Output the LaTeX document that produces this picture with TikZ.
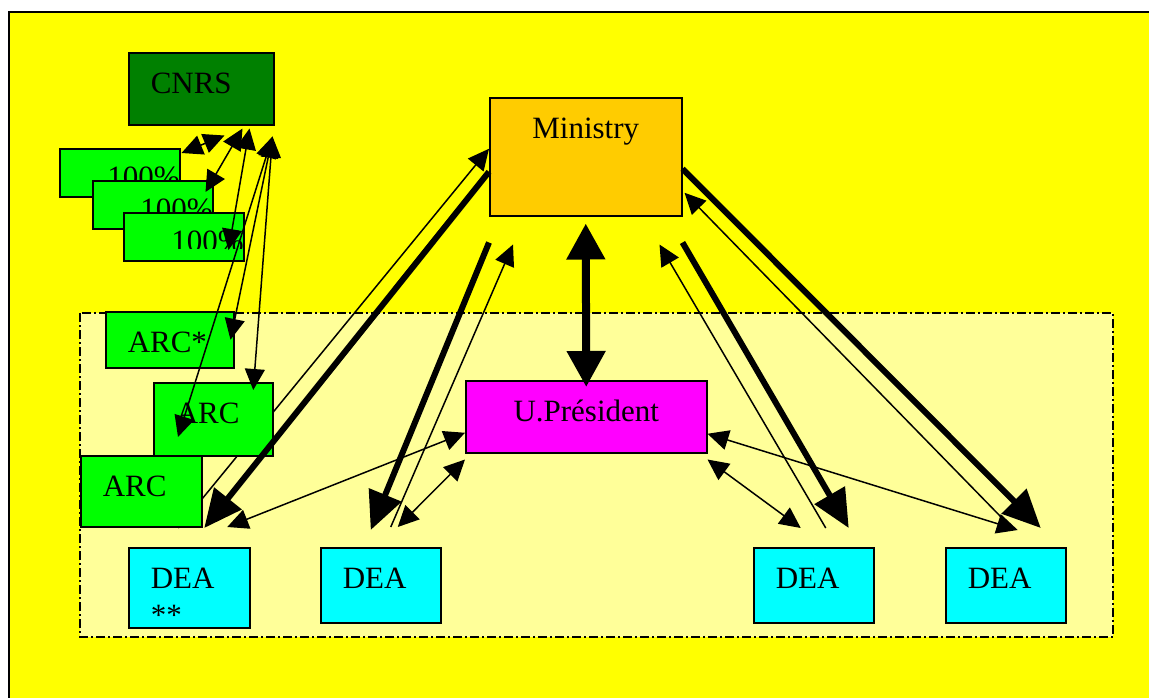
\documentclass[tikz,border=0pt]{standalone}
\usepackage{fontspec}
\setmainfont{Liberation Serif}
\usetikzlibrary{arrows.meta}

\definecolor{bgyellow}{RGB}{255,255,0}
\definecolor{zoneyellow}{RGB}{255,255,153}
\definecolor{cnrsgreen}{RGB}{0,128,0}
\definecolor{arcgreen}{RGB}{0,255,0}
\definecolor{ministry}{RGB}{255,204,0}
\definecolor{presmagenta}{RGB}{255,0,255}
\definecolor{deacyan}{RGB}{0,255,255}

\tikzset{
  unit/.style={draw=black, line width=1.5pt, anchor=north west, inner xsep=22pt, inner ysep=0pt,
    text height=41pt, align=left, font=\fontsize{31}{37}\selectfont},
  pct/.style={draw=black, line width=1.5pt, fill=arcgreen, anchor=north west, inner sep=0pt,
    minimum width=120pt, minimum height=48pt,
    path picture={\clip (path picture bounding box.north west) rectangle ([yshift=12pt]path picture bounding box.south east);
      \node[anchor=base west, inner sep=0pt, font=\fontsize{31}{37}\selectfont] (#1)
        at ([xshift=23pt,yshift=-39pt]path picture bounding box.north west) {100\%};}},
  zone/.style={line width=2pt, fill=zoneyellow, dash pattern=on 9pt off 3pt on 2pt off 3pt},
  link/.style={line width=1.5pt, -{Triangle[length=21pt,width=20pt]}},
  duplex/.style={line width=1.5pt, {Triangle[length=21pt,width=20pt]}-{Triangle[length=21pt,width=20pt]}},
  fatlink/.style={line width=6pt, -{Triangle[length=38pt,width=34pt]}},
  fatduplex/.style={line width=8pt, {Triangle[length=36pt,width=37pt]}-{Triangle[length=36pt,width=37pt]}},
}

\begin{document}
\begin{tikzpicture}[x=1pt,y=-1pt]
\useasboundingbox (0,0) rectangle (1149,697);
\draw[line width=2pt, fill=bgyellow] (9,12) rectangle (1200,760);
\draw[zone] (80,313) rectangle (1113,637);

\node[unit, fill=cnrsgreen, text width=101pt, text depth=31pt] (cnrs) at (128,52) {CNRS};
\node[pct=pct1txt] (pct1) at (59,148) {};
\node[pct=pct2txt] (pct2) at (92,180) {};
\node[pct=pct3txt] (pct3) at (123,212) {};
\node[unit, fill=ministry, align=center, text width=148pt, text depth=77pt] (min) at (489,97) {Ministry};
\node[unit, fill=presmagenta, align=center, text width=197pt, text depth=31pt] (pres) at (465,380) {U.Président};
\node[unit, fill=deacyan, text width=77pt, text depth=39pt] (dea1) at (128,547) {DEA\\{**}};
\node[unit, fill=deacyan, text width=76pt, text depth=34pt] (dea2) at (320,547) {DEA};
\node[unit, fill=deacyan, text width=76pt, text depth=34pt] (dea3) at (753,547) {DEA};
\node[unit, fill=deacyan, text width=76pt, text depth=34pt] (dea4) at (945,547) {DEA};

\draw[link] ([xshift=-11pt,yshift=19pt]dea1.north) -- ([yshift=8pt]min.west);

\node[unit, fill=arcgreen, text width=84pt, text depth=15pt] (arcs) at (105,311) {ARC*};
\node[unit, fill=arcgreen, text width=75pt, text depth=32pt] (arc2) at (153,382) {ARC};
\node[unit, fill=arcgreen, text width=77pt, text depth=30pt] (arc3) at (80,455) {ARC};

\draw[fatlink] ([yshift=-15pt]min.west) -- ([xshift=15pt,yshift=19pt]dea1.north);
\draw[fatlink] ([yshift=-26pt]min.south west) -- ([xshift=-10pt,yshift=17pt]dea2.north);
\draw[link] ([xshift=10pt,yshift=20pt]dea2.north) -- ([xshift=24pt,yshift=-28pt]min.south west);
\draw[fatduplex] ([yshift=-7pt]min.south) -- ([yshift=-7pt]pres.north);
\draw[fatlink] ([yshift=-26pt]min.south east) -- ([xshift=35pt,yshift=19pt]dea3.north);
\draw[link] ([xshift=12pt,yshift=19pt]dea3.north) -- ([xshift=-23pt,yshift=-28pt]min.south east);
\draw[fatlink] ([yshift=-12pt]min.east) -- ([xshift=35pt,yshift=19pt]dea4.north);
\draw[link] ([xshift=6pt,yshift=19pt]dea4.north) -- ([xshift=2pt,yshift=-36pt]min.east);

\draw[duplex] ([xshift=38pt,yshift=20pt]dea1.north) -- ([yshift=-16pt]pres.west);
\draw[duplex] ([xshift=17pt,yshift=20pt]dea2.north) -- ([yshift=-6pt]pres.south west);
\draw[duplex] ([xshift=-13pt,yshift=19pt]dea3.north) -- ([yshift=-6pt]pres.south east);
\draw[duplex] ([xshift=12pt,yshift=17pt]dea4.north) -- ([yshift=-17pt]pres.east);

\draw[duplex] ([xshift=1pt,yshift=-5pt]pct1.north east) -- ([xshift=-50pt,yshift=-10pt]cnrs.south east);
\draw[duplex] ([xshift=-8pt,yshift=-12pt]pct2.north east) -- ([xshift=-32pt,yshift=-3pt]cnrs.south east);
\draw[duplex] ([xshift=-25pt,yshift=-3pt]cnrs.south east) -- ([xshift=-16pt,yshift=-38pt]pct3.north east);
\draw[duplex] ([xshift=-2pt,yshift=-11pt]cnrs.south east) -- ([xshift=25pt,yshift=-55pt]arc2.north west);
\draw[duplex] ([xshift=-2pt,yshift=-11pt]cnrs.south east) -- ([xshift=-4pt]arcs.east);
\draw[duplex] ([xshift=-2pt,yshift=-11pt]cnrs.south east) -- ([xshift=40pt,yshift=-8pt]arc2.north);
\end{tikzpicture}
\end{document}
